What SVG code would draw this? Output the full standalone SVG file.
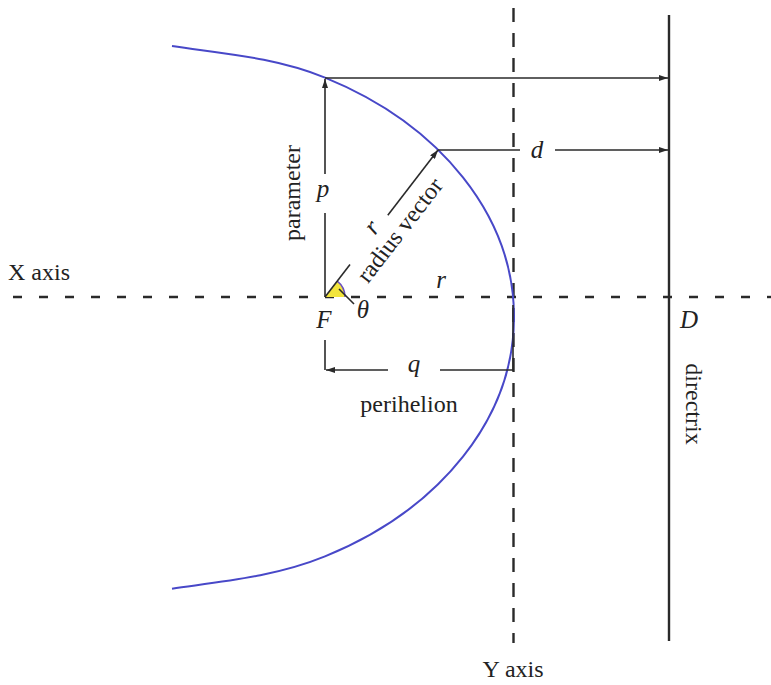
<svg xmlns="http://www.w3.org/2000/svg" width="771" height="685" viewBox="0 0 771 685">
<defs>
<style>
.ln{stroke:#2a2a2a;stroke-width:1.6;fill:none}
.axis{stroke:#2a2a2a;stroke-width:2.4;fill:none}
.t{font-family:"Liberation Serif","Times New Roman",serif;font-size:24px;fill:#222}
.i{font-family:"Liberation Serif","Times New Roman",serif;font-style:italic;font-size:25px;fill:#222}
</style>
<marker id="ah" markerWidth="10" markerHeight="6" refX="9" refY="3" orient="auto" markerUnits="userSpaceOnUse">
<path d="M0,0 L9,3 L0,6 z" fill="#2a2a2a"/>
</marker>
</defs>
<rect width="771" height="685" fill="#fff"/>
<g id="axes">
<line class="axis" x1="0" y1="297" x2="771" y2="297" stroke-dasharray="9 17" stroke-dashoffset="13"/>
<line class="axis" x1="513.5" y1="0" x2="513.5" y2="643" stroke-dasharray="14 11" stroke-dashoffset="17"/>
<line id="directrix" class="axis" x1="669" y1="15" x2="669" y2="641" stroke-width="2.2"/>
</g>
<g id="orbit">
<path d="M172,46 C222,53.5 275,57.2 325,77.6 A360,272 0 0 1 514,317 A360,272 0 0 1 325,556.4 C275,576.8 222,581.5 172,588.7" fill="none" stroke="#4848c8" stroke-width="2"/>
</g>
<g id="angle">
<path d="M325,297 L345,297 A20,20 0 0 0 337.2,281.1 Z" fill="#f2e43c"/>
<path d="M345,297 A20,20 0 0 0 337.2,281.1" fill="none" stroke="#6a50c0" stroke-width="1.5"/>
<line class="ln" x1="339" y1="289" x2="354" y2="304"/>
</g>
<g id="connectors">
<line class="ln" x1="325" y1="297" x2="325" y2="213"/>
<line class="ln" x1="325" y1="174" x2="325" y2="79" marker-end="url(#ah)"/>
<line class="ln" x1="325" y1="297" x2="350" y2="264.5"/>
<line class="ln" x1="387.8" y1="215.3" x2="438" y2="150" marker-end="url(#ah)"/>
<line class="ln" x1="325" y1="78" x2="668" y2="78" marker-end="url(#ah)"/>
<line class="ln" x1="438" y1="150" x2="520" y2="150"/>
<line class="ln" x1="555" y1="150" x2="668" y2="150" marker-end="url(#ah)"/>
<line class="ln" x1="325" y1="340" x2="325" y2="370"/>
<line class="ln" x1="388" y1="370" x2="326" y2="370" marker-end="url(#ah)"/>
<line class="ln" x1="440" y1="370" x2="513" y2="370"/>
<line class="ln" x1="513" y1="305" x2="513" y2="370.8"/>
</g>
<g id="labels">
<text class="t" x="8" y="280">X axis</text>
<text class="t" x="513" y="677" text-anchor="middle">Y axis</text>
<text class="t" transform="translate(300,193) rotate(-90)" text-anchor="middle">parameter</text>
<text class="t" transform="translate(406,235) rotate(-52.4)" text-anchor="middle">radius vector</text>
<text class="t" transform="translate(686,404) rotate(90)" text-anchor="middle">directrix</text>
<text class="t" x="409" y="412" text-anchor="middle">perihelion</text>
<text class="i" x="323" y="197" text-anchor="middle">p</text>
<text class="i" x="537" y="158" text-anchor="middle">d</text>
<text class="i" x="441" y="288" text-anchor="middle">r</text>
<text class="i" transform="translate(378,232) rotate(-52.4)" text-anchor="middle">r</text>
<text class="i" x="414" y="372" text-anchor="middle">q</text>
<text class="i" x="324" y="328" text-anchor="middle" font-size="26">F</text>
<text class="i" x="689" y="328" text-anchor="middle" font-size="26">D</text>
<text class="i" x="363" y="318" text-anchor="middle" font-size="18">θ</text>
</g>
</svg>
